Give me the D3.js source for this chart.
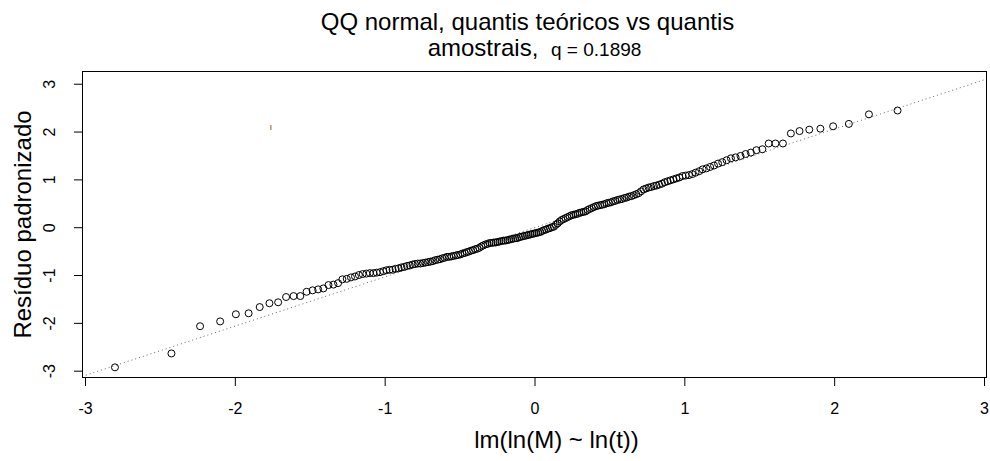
<!DOCTYPE html>
<html>
<head>
<meta charset="utf-8">
<script src="https://cdn.jsdelivr.net/npm/d3@7"></script>
<style>
  body { margin: 0; background: #fff; }
  text { font-family: "Liberation Sans", Arial, sans-serif; fill: #000; }
</style>
</head>
<body>
<svg id="chart" width="990" height="461"></svg>
<script>
// theoretical normal quantiles (x) and sorted standardized residuals (y)
const theoQ = [
  -2.800,-2.423,-2.232,-2.098,-1.993,-1.908,-1.834,-1.769,-1.711,-1.658,
  -1.608,-1.563,-1.521,-1.481,-1.444,-1.409,-1.375,-1.342,-1.311,-1.282,
  -1.253,-1.225,-1.198,-1.172,-1.147,-1.122,-1.099,-1.075,-1.053,-1.031,
  -1.009,-0.988,-0.967,-0.947,-0.927,-0.907,-0.888,-0.869,-0.851,-0.832,
  -0.814,-0.797,-0.779,-0.762,-0.745,-0.728,-0.711,-0.695,-0.679,-0.663,
  -0.647,-0.631,-0.615,-0.600,-0.584,-0.569,-0.554,-0.539,-0.524,-0.510,
  -0.495,-0.481,-0.466,-0.452,-0.438,-0.424,-0.410,-0.396,-0.382,-0.368,
  -0.354,-0.341,-0.327,-0.314,-0.300,-0.287,-0.273,-0.260,-0.247,-0.234,
  -0.220,-0.207,-0.194,-0.181,-0.168,-0.155,-0.142,-0.129,-0.116,-0.103,
  -0.090,-0.077,-0.064,-0.051,-0.039,-0.026,-0.013,0.000,
  0.013,0.026,0.039,0.051,0.064,0.077,0.090,0.103,0.116,0.129,
  0.142,0.155,0.168,0.181,0.194,0.207,0.220,0.234,0.247,0.260,
  0.273,0.287,0.300,0.314,0.327,0.341,0.354,0.368,0.382,0.396,
  0.410,0.424,0.438,0.452,0.466,0.481,0.495,0.510,0.524,0.539,
  0.554,0.569,0.584,0.600,0.615,0.631,0.647,0.663,0.679,0.695,
  0.711,0.728,0.745,0.762,0.779,0.797,0.814,0.832,0.851,0.869,
  0.888,0.907,0.927,0.947,0.967,0.988,1.009,1.031,1.053,1.075,
  1.099,1.122,1.147,1.172,1.198,1.225,1.253,1.282,1.311,1.342,
  1.375,1.409,1.444,1.481,1.521,1.563,1.608,1.658,1.711,1.769,
  1.834,1.908,1.993,2.098,2.232,2.423
];

const resid = [
  -2.93,-2.64,-2.07,-1.97,-1.82,-1.80,-1.67,-1.59,-1.57,-1.46,
  -1.44,-1.44,-1.35,-1.32,-1.30,-1.28,-1.21,-1.20,-1.17,-1.09,
  -1.08,-1.05,-1.03,-1.00,-0.98,-0.97,-0.96,-0.96,-0.95,-0.94,
  -0.92,-0.90,-0.89,-0.89,-0.87,-0.86,-0.84,-0.83,-0.81,-0.80,
  -0.78,-0.77,-0.76,-0.76,-0.75,-0.74,-0.73,-0.72,-0.71,-0.69,
  -0.68,-0.67,-0.65,-0.64,-0.62,-0.62,-0.61,-0.60,-0.59,-0.58,
  -0.57,-0.55,-0.54,-0.52,-0.51,-0.49,-0.48,-0.46,-0.45,-0.43,
  -0.40,-0.38,-0.36,-0.35,-0.33,-0.33,-0.32,-0.32,-0.31,-0.30,
  -0.29,-0.28,-0.28,-0.27,-0.26,-0.25,-0.24,-0.23,-0.23,-0.21,
  -0.20,-0.19,-0.18,-0.17,-0.16,-0.15,-0.14,-0.13,
  -0.12,-0.11,-0.10,-0.08,-0.06,-0.05,-0.03,-0.02,0.00,0.01,
  0.05,0.08,0.12,0.15,0.17,0.19,0.21,0.23,0.25,0.26,
  0.27,0.28,0.30,0.31,0.32,0.33,0.36,0.38,0.40,0.42,
  0.44,0.45,0.46,0.47,0.48,0.50,0.51,0.52,0.54,0.55,
  0.57,0.58,0.59,0.61,0.62,0.64,0.65,0.67,0.69,0.71,
  0.75,0.79,0.81,0.83,0.84,0.86,0.87,0.89,0.91,0.94,
  0.96,0.98,1.00,1.02,1.04,1.07,1.08,1.09,1.11,1.14,
  1.17,1.21,1.23,1.26,1.29,1.33,1.36,1.40,1.44,1.46,
  1.49,1.53,1.56,1.61,1.63,1.75,1.75,1.75,1.96,2.01,
  2.04,2.06,2.11,2.16,2.36,2.44
];

// reference line (qqline): intercept, slope
const qqLine = [-0.01, 1.03];

const xTicks = [-3, -2, -1, 0, 1, 2, 3];
const yTicks = [-3, -2, -1, 0, 1, 2, 3];

const titleLine1 = "QQ normal, quantis teóricos vs quantis";
const titleLine2a = "amostrais, ";
const titleLine2b = "q = 0.1898";
const xLabel = "lm(ln(M) ~ ln(t))";
const yLabel = "Resíduo padronizado";

const margin = { top: 71, right: 3, bottom: 83, left: 82 };
const width = 990, height = 461;

const svg = d3.select("#chart");

const x = d3.scaleLinear()
  .domain([-3.02, 3.02])
  .range([margin.left, width - margin.right]);

const y = d3.scaleLinear()
  .domain([-3.153, 3.266])
  .range([height - margin.bottom, margin.top]);

svg.append("defs").append("clipPath")
  .attr("id", "plotclip")
  .append("rect")
  .attr("x", margin.left)
  .attr("y", margin.top)
  .attr("width", width - margin.left - margin.right)
  .attr("height", height - margin.top - margin.bottom);

// qqline, dotted
const xd = x.domain();
svg.append("line")
  .attr("clip-path", "url(#plotclip)")
  .attr("x1", x(xd[0]))
  .attr("y1", y(qqLine[0] + qqLine[1] * xd[0]))
  .attr("x2", x(xd[1]))
  .attr("y2", y(qqLine[0] + qqLine[1] * xd[1]))
  .attr("stroke", "#666")
  .attr("stroke-width", 1)
  .attr("stroke-dasharray", "1,3");

// points
const pts = theoQ.map((q, i) => ({ q: q, r: resid[i] }));
svg.append("g")
  .attr("clip-path", "url(#plotclip)")
  .selectAll("circle")
  .data(pts)
  .join("circle")
  .attr("cx", (d) => x(d.q))
  .attr("cy", (d) => y(d.r))
  .attr("r", 3.5)
  .attr("fill", "none")
  .attr("stroke", "#000")
  .attr("stroke-width", 1);

// box
svg.append("rect")
  .attr("x", margin.left + 0.5)
  .attr("y", margin.top + 0.5)
  .attr("width", width - margin.left - margin.right - 1)
  .attr("height", height - margin.top - margin.bottom - 1)
  .attr("fill", "none")
  .attr("stroke", "#000")
  .attr("stroke-width", 1);

// x axis
const xAxis = d3.axisBottom(x)
  .tickValues(xTicks)
  .tickSize(8)
  .tickPadding(17)
  .tickFormat((d) => String(d));
const gx = svg.append("g")
  .attr("transform", `translate(0,${height - margin.bottom})`)
  .call(xAxis);
gx.select(".domain").remove();
gx.selectAll("text")
  .style("font-family", "'Liberation Sans', Arial, sans-serif")
  .style("font-size", "16px");

// y axis, labels rotated parallel to axis
const yAxis = d3.axisLeft(y)
  .tickValues(yTicks)
  .tickSize(8)
  .tickFormat((d) => String(d));
const gy = svg.append("g")
  .attr("transform", `translate(${margin.left},0)`)
  .call(yAxis);
gy.select(".domain").remove();
gy.selectAll("text")
  .attr("x", null)
  .attr("y", null)
  .attr("dy", null)
  .attr("text-anchor", "middle")
  .attr("transform", "translate(-27,0) rotate(-90)")
  .style("font-family", "'Liberation Sans', Arial, sans-serif")
  .style("font-size", "16px");

// title
const cx = (margin.left + width - margin.right) / 2;
svg.append("text")
  .attr("x", cx - 7)
  .attr("y", 30)
  .attr("text-anchor", "middle")
  .style("font-size", "24px")
  .text(titleLine1);
const t2 = svg.append("text")
  .attr("x", cx)
  .attr("y", 56)
  .attr("text-anchor", "middle")
  .style("font-size", "24px");
t2.append("tspan").text(titleLine2a);
t2.append("tspan").attr("dx", 6).style("font-size", "19px").text(titleLine2b);

// axis labels
svg.append("text")
  .attr("x", cx + 22)
  .attr("y", 448)
  .attr("text-anchor", "middle")
  .style("font-size", "24px")
  .text(xLabel);

svg.append("text")
  .attr("transform", `translate(31,${(margin.top + height - margin.bottom) / 2}) rotate(-90)`)
  .attr("text-anchor", "middle")
  .style("font-size", "24px")
  .text(yLabel);

// small stray mark seen in the plot area
svg.append("rect").attr("x", 270).attr("y", 125).attr("width", 1).attr("height", 5).attr("fill", "#e0913a");
svg.append("rect").attr("x", 271).attr("y", 125).attr("width", 1).attr("height", 5).attr("fill", "#a9c8ec");
</script>
</body>
</html>
